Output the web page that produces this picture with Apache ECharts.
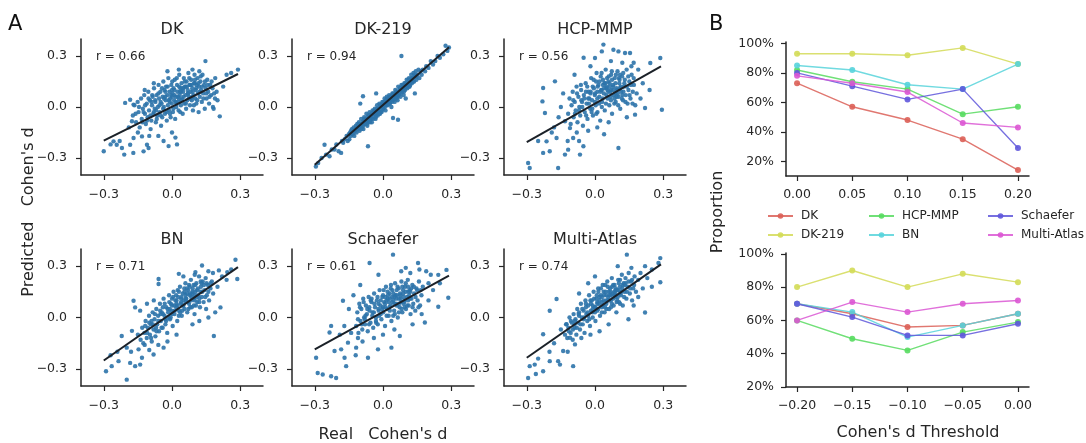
<!DOCTYPE html>
<html>
<head>
<meta charset="utf-8">
<title>Predicted vs real Cohen's d</title>
<script src="https://cdn.jsdelivr.net/npm/echarts@6.0.0/dist/echarts.min.js"></script>
<style>
  html, body { margin: 0; padding: 0; background: #fff; }
  #chart { width: 1086px; height: 443px; }
</style>
</head>
<body>
<div id="chart"></div>
<script>
// ---------- panel A : real vs predicted Cohen's d, one list of points per atlas ----------
var dkPts = [
  [-.172,-.05],[-.165,.01],[-.158,-.09],[-.151,.03],[-.147,-.03],[-.142,-.12],[-.136,.05],[-.133,-.07],[-.128,-.01],
  [-.122,.07],[-.119,-.04],[-.115,-.10],[-.111,.02],[-.107,-.06],[-.104,.09],[-.101,-.02],[-.097,.04],[-.094,-.13],[-.091,-.08],[-.088,.01],[-.085,.06],[-.082,-.04],
  [-.079,.11],[-.076,-.01],[-.073,.03],[-.071,-.09],[-.068,.07],[-.065,-.05],[-.062,.00],[-.059,.13],[-.057,.05],[-.054,-.03],[-.051,.09],[-.048,-.11],[-.046,.02],[-.043,-.06],[-.041,.06],
  [-.038,.15],[-.036,.00],[-.033,.10],[-.031,-.04],[-.028,.04],[-.026,.12],[-.023,-.08],[-.021,.07],[-.018,.01],[-.016,.17],[-.013,-.02],[-.011,.09],[-.008,.05],[-.006,-.06],[-.003,.13],[-.001,.02],
  [.002,.08],[.004,-.03],[.007,.11],[.009,.04],[.012,.16],[.014,-.07],[.017,.06],[.019,.00],[.022,.13],[.024,.09],[.027,.03],[.029,-.02],[.032,.19],[.034,.07],[.037,.11],[.039,.01],
  [.042,.14],[.044,.05],[.047,-.04],[.049,.09],[.052,.17],[.054,.02],[.057,.12],[.059,.07],[.062,-.01],[.064,.15],[.067,.04],[.069,.10],[.072,.20],[.074,.06],[.077,.13],[.079,.01],
  [.082,.09],[.084,.16],[.087,.04],[.089,.11],[.092,-.02],[.094,.07],[.097,.14],[.099,.19],[.102,.05],[.104,.10],[.107,.02],[.109,.13],[.112,.17],[.114,.08],[.117,-.03],[.119,.12],
  [.122,.06],[.125,.15],[.128,.10],[.131,.03],[.134,.19],[.137,.08],[.141,.13],[.144,-.01],[.148,.11],[.152,.05],[.155,.16],[.159,.09],
  [.163,.02],[.168,.13],[.172,.07],[.178,.11],[.183,-.01],[.189,.05],[.196,.09],
  [-.05,.03],[-.03,.06],[-.01,.03],[.01,.07],[.03,.05],[.05,.11],[.07,.08],[.09,.06],[-.07,-.02],[-.09,.03],[.0,.10],[.02,.02],[.04,.09],[.06,.12],[.08,.13],[.10,.14],
  [-.125,-.03],[-.118,.01],[-.11,-.08],[-.103,.05],[-.095,-.05],[-.087,.07],[-.08,-.03],[-.074,.04],[-.067,-.07],[-.06,.08],[-.055,.01],[-.049,-.05],[-.044,.11],[-.039,-.01],
  [-.035,.05],[-.029,.09],[-.024,-.03],[-.019,.12],[-.014,.04],[-.009,-.04],[-.004,.07],[.001,.15],[.006,-.01],[.011,.10],[.016,.03],[.021,.17],[.026,.06],[.031,.12],
  [.036,-.03],[.041,.04],[.046,.11],[.051,.06],[.056,.15],[.061,.02],[.066,.12],[.071,.08],[.076,.17],[.081,.05],[.086,.13],[.091,.09],[.096,.01],[.101,.16],
  [.106,.11],[.111,.04],[.116,.14],[.121,.09],[.126,.18],[.132,.12],[.138,.05],[.145,.15],[.151,.08],[.157,.13],[.165,.06],[.174,.15],[-.145,.00],[-.13,-.09],
  [-.16,-.04],[.185,.08],[.0,.06],[.035,.09],
  [.147,.27],[.29,.22],[.24,.19],[.21,-.055],[.18,.0],[.20,.04],[.225,.12],[-.206,.024],[-.184,.043],[-.169,.014],[-.176,-.084],[-.19,-.12],
  [-.257,-.202],[-.243,-.222],[-.22,-.241],[-.184,-.222],[-.169,-.182],[-.132,-.173],[-.11,-.222],[-.103,-.241],[-.125,-.261],[-.30,-.26],[-.21,-.28],[-.17,-.27],
  [-.27,-.22],[-.23,-.20],[-.037,-.20],[.015,-.18],[.022,-.22],[-.015,-.23],[-.06,-.17],[.0,-.15],[-.02,.21],[.03,.22],[.09,.22],[.12,.21],[-.10,-.17],[-.15,-.15],
  [-.08,.14],[-.12,.10],[.19,.17],[.26,.20]
];
var dk219Pts = [
  [-.295,-.35],[-.285,-.33],[-.27,-.30],[-.257,-.222],[-.25,-.28],[-.235,-.29],[-.225,-.25],[-.213,-.25],[-.205,-.22],[-.195,-.26],[-.184,-.27],[-.18,-.20],[-.175,-.21],[-.168,-.19],[-.16,-.17],[-.155,-.20],[-.15,-.16],
  [.29,.35],[.283,.33],[.275,.36],[.265,.31],[.25,.29],[.24,.30],[.23,.27],[.22,.25],[.21,.27],[.20,.23],[.19,.24],[.185,.21],[.175,.22],[.17,.19],[.165,.21],[.16,.17],
  [.081,.30],[-.088,.063],[-.066,-.231],[.066,-.075],[.044,-.065],[-.10,.02],[.10,.05],[-.03,.08],[.14,.08],
  [-.148,-.19],[-.145,-.15],[-.141,-.17],[-.137,-.13],[-.133,-.16],[-.129,-.12],[-.126,-.17],[-.122,-.14],[-.119,-.11],
  [-.116,-.15],[-.113,-.10],[-.109,-.13],[-.106,-.09],[-.103,-.14],[-.099,-.11],[-.096,-.07],[-.093,-.12],[-.089,-.09],[-.086,-.13],[-.083,-.06],[-.079,-.10],[-.076,-.08],[-.073,-.04],
  [-.069,-.11],[-.066,-.06],[-.063,-.09],[-.059,-.03],[-.056,-.07],[-.053,-.05],[-.049,-.09],[-.046,-.02],[-.043,-.06],[-.039,-.04],[-.036,-.01],[-.033,-.07],[-.029,-.03],[-.026,.01],
  [-.023,-.05],[-.019,-.02],[-.016,.02],[-.013,-.04],[-.009,.00],[-.006,-.03],[-.003,.03],[.001,-.01],[.004,.02],[.007,.05],[.011,-.02],[.014,.03],[.017,.06],[.021,.01],
  [.024,.04],[.027,.07],[.031,.02],[.034,.05],[.037,.00],[.041,.08],[.044,.04],[.047,.07],[.051,.03],[.054,.10],[.057,.06],[.061,.09],[.064,.04],[.067,.12],
  [.071,.08],[.074,.11],[.077,.06],[.081,.13],[.084,.09],[.087,.12],[.091,.07],[.094,.14],[.097,.10],[.101,.13],[.104,.16],[.107,.11],[.111,.14],[.114,.17],
  [.117,.12],[.121,.15],[.124,.19],[.127,.14],[.131,.17],[.134,.20],[.137,.15],[.141,.18],[.144,.21],[.147,.16],[.152,.19],[.156,.22],
  [-.081,-.07],[-.071,-.09],[-.061,-.05],[-.051,-.07],[-.041,-.03],[-.031,-.05],[-.021,-.01],[-.011,-.03],[-.001,.01],[.009,.03],[.019,.02],[.029,.05],[.039,.03],[.049,.06],
  [.059,.08],[.069,.07],[.079,.10],[.089,.10],[.099,.11],[.109,.13],[-.091,-.10],[-.101,-.12],[-.058,-.08],[-.035,-.04],[.015,.01],[.035,.06],[.062,.07],[.085,.11],[.118,.14],[.128,.16],
  [-.121,-.13],[-.111,-.12],[-.101,-.10],[-.095,-.13],[-.087,-.11],[-.078,-.07],[-.072,-.10],[-.064,-.05],[-.057,-.09],[-.05,-.04],[-.044,-.07],[-.038,-.02],[-.032,-.06],[-.025,-.01],
  [-.018,-.04],[-.012,.01],[-.005,-.02],[.002,.03],[.008,.00],[.013,.04],[.02,.05],[.026,.02],[.032,.06],[.038,.04],[.045,.08],[.052,.05],[.058,.09],[.065,.06],
  [.072,.10],[.078,.08],[.086,.13],[.092,.09],[.098,.14],[.105,.12],[.112,.16],[.119,.13],[.125,.17],[.132,.15],[.139,.19],[.146,.18],[-.13,-.15],[-.14,-.14],
  [.0,.00],[.03,.03],[.06,.05],[-.06,-.07],[-.03,-.03],[.09,.12],[.115,.12],[-.085,-.08]
];
var hcpPts = [
  [-.118,-.04],[-.112,.05],[-.107,-.10],[-.103,.01],[-.098,.09],[-.094,-.06],[-.089,.03],[-.085,-.02],[-.081,.12],[-.077,-.09],[-.073,.06],[-.069,.00],[-.065,-.05],[-.061,.10],
  [-.057,.03],[-.053,-.11],[-.049,.07],[-.045,-.03],[-.041,.14],[-.037,.02],[-.033,-.07],[-.029,.09],[-.025,.05],[-.021,-.01],[-.017,.17],[-.013,.04],[-.009,-.05],[-.005,.11],
  [-.001,.07],[.003,.01],[.007,.20],[.011,-.03],[.015,.13],[.019,.06],[.023,-.08],[.027,.10],[.031,.03],[.035,.16],[.039,.08],[.043,-.02],[.047,.22],[.051,.12],
  [.055,.05],[.059,.15],[.063,.01],[.067,.09],[.071,.19],[.075,-.04],[.079,.13],[.083,.07],[.087,.17],[.091,.03],[.095,.11],[.099,.21],[.103,.06],[.107,.14],
  [.111,-.01],[.115,.09],[.119,.18],[.123,.04],[.127,.12],[.131,.16],[.135,.07],[.139,.22],[.143,.02],[.147,.10],[.151,.15],[.156,.05],[.161,.19],[.166,.09],
  [.171,.13],[.177,.01],[.183,.08],
  [-.02,.08],[-.01,.12],[.0,.03],[.01,.09],[.02,.15],[.03,.00],[.04,.11],[.05,.07],[.06,.18],[.07,.04],[.08,.10],[.09,.14],[.10,.08],[.11,.19],[.12,.07],
  [-.03,.05],[-.04,.09],[-.06,.04],[.025,.18],[.045,.14],[.065,.12],[.085,.02],[.105,.17],[.125,.09],[-.015,-.03],[.005,.15],[.035,.13],[.055,.10],[.075,.16],[.095,.06],
  [-.095,.04],[-.088,-.04],[-.079,.08],[-.07,-.02],[-.062,.13],[-.056,.0],[-.047,.05],[-.039,-.05],[-.034,.12],[-.027,.02],[-.019,.09],[-.012,-.01],[-.006,.16],[.0,.08],
  [.006,-.04],[.012,.12],[.018,.02],[.024,.09],[.029,.20],[.034,.05],[.041,.14],[.048,.02],[.053,.17],[.058,.09],[.064,.14],[.069,.06],[.074,.21],[.08,.12],
  [.086,.05],[.092,.19],[.097,.10],[.102,.01],[.108,.16],[.113,.12],[.118,.05],[.124,.20],[.129,.14],[.134,.03],[.14,.12],[.146,.18],[.152,.07],[.158,.13],
  [.165,.02],[.17,.17],[.05,.11],[.07,.10],[.09,.08],[.03,.10],[.01,.05],[.11,.11],
  [.037,.367],[.081,.337],[.103,.327],[.132,.318],[.154,.318],[.03,.327],[-.05,.29],[0,.288],[.287,.288],[.243,.259],[.294,-.016],[.22,-.006],[.176,-.045],
  [-.176,.151],[-.228,.112],[-.231,.033],[-.22,-.035],[-.294,-.329],[-.287,-.359],[-.228,-.27],[-.199,-.26],[-.162,-.359],[-.132,-.28],[-.118,-.251],[-.066,-.28],
  [-.051,-.231],[.103,-.241],[-.213,-.202],[-.169,-.182],[-.096,-.182],[-.11,-.124],[-.132,-.084],
  [-.15,.0],[-.16,-.06],[-.14,.08],[-.18,-.12],[-.08,-.15],[-.03,-.14],[.01,-.12],[.06,-.09],[.14,-.06],[.20,.05],[.21,.14],[.19,.22],[.17,.26],[.07,.27],
  [-.02,.24],[-.09,.19],[.24,.10],[.12,.26],[-.19,-.15],[-.25,-.20],[-.07,-.20],[.04,-.16],[-.12,-.20],[.16,.24]
];
var bnPts = [
  [-.138,-.13],[-.131,-.06],[-.126,-.15],[-.121,-.09],[-.116,-.02],[-.111,-.12],[-.106,-.06],[-.101,.01],[-.097,-.10],[-.093,-.04],[-.089,-.14],[-.085,.03],[-.081,-.07],[-.077,-.01],
  [-.073,-.11],[-.069,.05],[-.065,-.04],[-.061,.01],[-.057,-.08],[-.053,.08],[-.049,-.02],[-.045,.03],[-.041,-.06],[-.037,.11],[-.033,.01],[-.029,-.04],[-.025,.06],[-.021,-.09],
  [-.017,.03],[-.013,.13],[-.009,-.01],[-.005,.08],[-.001,.04],[.003,-.05],[.007,.15],[.011,.02],[.015,.10],[.019,.06],[.023,-.02],[.027,.12],[.031,.04],[.035,.18],
  [.039,.08],[.043,.01],[.047,.14],[.051,.10],[.055,.05],[.059,.20],[.063,.11],[.067,.03],[.071,.16],[.075,.08],[.079,.13],[.083,.22],[.087,.06],[.091,.17],
  [.095,.11],[.099,.02],[.103,.15],[.107,.20],[.111,.09],[.115,.13],[.119,.24],[.123,.06],[.127,.18],[.131,.12],[.135,.21],[.139,.09],[.143,.16],[.148,.23],
  [.153,.13],[.158,.19],[.163,.10],[.169,.17],[.175,.21],[.181,.14],
  [-.03,-.01],[-.01,.05],[.01,.07],[.02,.10],[.03,.01],[.04,.11],[.05,.07],[.06,.13],[.07,.09],[.08,.06],[.09,.14],[.10,.10],[.11,.16],[.12,.11],[-.05,.02],
  [-.07,-.06],[-.09,-.02],[.0,.11],[.025,.16],[.045,.04],[.065,.17],[.085,.12],[.105,.07],[.125,.15],[-.015,.0],[-.04,.06],[.055,.15],[.075,.19],[.095,.19],[.13,.20],
  [-.118,-.05],[-.109,-.09],[-.10,-.03],[-.092,-.12],[-.084,-.04],[-.075,.02],[-.068,-.08],[-.06,-.02],[-.052,.04],[-.046,-.06],[-.039,.02],[-.032,.08],[-.026,-.02],[-.019,.05],
  [-.012,.09],[-.006,.0],[.0,.07],[.005,.12],[.012,.04],[.018,.13],[.024,.07],[.03,.15],[.036,.03],[.042,.12],[.048,.07],[.054,.17],[.06,.09],[.066,.14],
  [.072,.05],[.078,.18],[.084,.10],[.09,.15],[.096,.07],[.102,.19],[.108,.12],[.114,.17],[.12,.09],[.126,.21],[.133,.15],[.14,.19],[.146,.12],[.152,.20],
  [.16,.15],[.17,.20],[.02,.08],[.04,.09],[.06,.11],[.08,.14],[.10,.13],[.0,.02],
  [.279,.337],[.287,.225],[.243,.265],[.206,.275],[.184,-.108],[.213,.059],[.103,.265],[.132,.304],[.03,.255],[-.059,.225],[-.059,.196],[-.169,.098],[-.162,.059],
  [-.176,-.078],[-.221,-.108],[-.29,-.314],[-.265,-.284],[-.235,-.255],[-.199,-.363],[-.184,-.265],[-.162,-.284],[-.14,-.275],[-.132,-.235],[-.199,-.176],[-.147,-.186],
  [-.081,-.216],[-.037,-.176],
  [.22,.24],[.20,.18],[.18,.26],[.16,.27],[.24,.22],[.15,.05],[.12,-.02],[.09,-.04],[.02,-.10],[-.02,-.14],[-.06,-.16],[-.10,-.19],[-.12,-.16],[-.15,-.10],
  [-.14,.04],[-.11,.08],[-.08,.10],[.05,.24],[.26,.28],[.19,.03],[-.18,-.20],[-.24,-.20],[-.27,-.22],[.16,.0],[.10,.25]
];
var schaeferPts = [
  [-.118,-.05],[-.113,.03],[-.108,-.09],[-.104,.08],[-.099,-.02],[-.095,.05],[-.091,-.07],[-.087,.11],[-.083,.00],[-.079,-.04],[-.075,.07],[-.071,.02],[-.067,-.08],[-.063,.12],
  [-.059,.04],[-.055,-.03],[-.051,.09],[-.047,.01],[-.043,-.06],[-.039,.14],[-.035,.06],[-.031,.00],[-.027,.10],[-.023,-.04],[-.019,.04],[-.015,.16],[-.011,.07],[-.007,-.01],
  [-.003,.12],[.001,.03],[.005,.09],[.009,-.05],[.013,.18],[.017,.05],[.021,.11],[.025,.01],[.029,.14],[.033,.07],[.037,-.02],[.041,.16],[.045,.10],[.049,.04],
  [.053,.20],[.057,.08],[.061,.13],[.065,.00],[.069,.17],[.073,.06],[.077,.11],[.081,.21],[.085,.03],[.089,.14],[.093,.09],[.097,.18],[.101,.05],[.105,.12],
  [.109,.22],[.113,.07],[.117,.16],[.121,.02],[.125,.11],[.129,.19],[.133,.08],[.137,.14],[.142,.04],[.147,.17],[.152,.10],[.158,.21],[.163,.07],[.169,.13],[.175,.18],
  [-.02,.08],[-.01,.02],[.0,.13],[.01,.06],[.02,.15],[.03,.04],[.04,.12],[.05,.08],[.06,.16],[.07,.03],[.08,.09],[.09,.12],[.10,.15],[.11,.10],[-.04,.03],
  [-.06,.06],[-.08,-.01],[.015,.10],[.035,.19],[.055,.13],[.075,.14],[.095,.06],[.115,.13],[-.03,-.03],[-.05,.11],[.045,.01],[.085,.18],[.12,.15],[.0,.06],[.025,.09],
  [-.11,-.01],[-.101,.06],[-.093,-.04],[-.085,.09],[-.077,.01],[-.069,.05],[-.061,-.04],[-.054,.10],[-.046,.03],[-.038,.08],[-.031,-.02],[-.024,.12],[-.017,.01],[-.01,.10],
  [-.004,.05],[.003,.16],[.009,.08],[.016,.01],[.022,.13],[.028,.06],[.034,.17],[.04,.09],[.046,.14],[.052,.02],[.058,.11],[.064,.18],[.07,.08],[.076,.13],
  [.082,.05],[.088,.16],[.094,.10],[.10,.20],[.106,.07],[.112,.15],[.118,.11],[.124,.17],[.13,.06],[.136,.18],[.143,.12],[.15,.16],[.156,.06],[.165,.16],
  [.03,.11],[.05,.12],[.07,.11],[.01,.12],[.09,.08],[-.02,.05],[.11,.18],[.06,.07],
  [.044,.367],[-.059,.318],[.154,.318],[.279,.278],[.243,.249],[.287,.115],[.243,.063],[.184,-.029],[-.176,.098],[-.228,-.049],[-.235,-.088],[-.294,-.235],[-.287,-.324],
  [-.265,-.333],[-.228,-.343],[-.206,-.353],[-.169,-.235],[-.162,-.284],[-.213,-.196],[-.184,-.186],[-.154,-.147],[-.118,-.176],[-.066,-.235],[-.022,-.186],[.074,-.108],[.037,-.176],
  [.19,.27],[.21,.25],[.20,.20],[.12,.26],[.08,.27],[.10,.29],[-.02,.25],[-.10,.19],[-.13,.13],[-.15,.05],[-.17,-.05],[-.14,-.09],[-.11,-.12],[-.09,-.14],
  [-.04,-.12],[.0,-.10],[.05,-.07],[.13,-.04],[.20,.10],[.22,.16],[.17,.02],[-.19,-.10],[-.12,-.22],[.16,.28],[.25,.20]
];
var multiPts = [
  [-.132,-.10],[-.127,-.04],[-.122,-.12],[-.117,-.06],[-.112,.00],[-.107,-.09],[-.102,-.03],[-.098,-.13],[-.094,.02],[-.09,-.06],[-.086,-.01],[-.082,-.10],[-.078,.05],[-.074,-.03],
  [-.07,.01],[-.066,-.07],[-.062,.08],[-.058,.00],[-.054,-.04],[-.05,.04],[-.046,-.09],[-.042,.10],[-.038,.02],[-.034,-.02],[-.03,.07],[-.026,.13],[-.022,-.05],[-.018,.04],
  [-.014,.10],[-.01,.00],[-.006,.15],[-.002,.06],[.002,-.02],[.006,.11],[.01,.04],[.014,.17],[.018,.08],[.022,.01],[.026,.13],[.03,.06],[.034,.19],[.038,.10],
  [.042,.03],[.046,.15],[.05,.08],[.054,.21],[.058,.12],[.062,.05],[.066,.17],[.07,.10],[.074,.23],[.078,.14],[.082,.07],[.086,.19],[.09,.12],[.094,.03],
  [.098,.16],[.102,.22],[.106,.09],[.11,.18],[.114,.13],[.118,.25],[.122,.07],[.126,.20],[.13,.15],[.134,.23],[.138,.11],[.143,.18],[.148,.26],[.153,.14],
  [.158,.21],[.163,.10],[.168,.17],[.174,.24],[.18,.15],
  [-.03,.01],[-.01,.07],[.0,.03],[.01,.09],[.02,.12],[.03,.03],[.04,.13],[.05,.05],[.06,.15],[.07,.06],[.08,.11],[.09,.16],[.10,.12],[.11,.08],[.12,.17],
  [-.05,-.01],[-.07,.03],[-.09,-.04],[.015,.15],[.035,.07],[.055,.10],[.075,.18],[.095,.09],[.13,.19],[-.02,.10],[-.04,.06],[.045,.19],[.065,.13],[.085,.15],[.105,.20],
  [-.115,-.08],[-.106,-.02],[-.097,-.07],[-.088,-.02],[-.08,-.06],[-.072,.02],[-.064,-.04],[-.056,.05],[-.048,.0],[-.04,.08],[-.033,.03],[-.025,-.01],[-.018,.08],[-.011,.03],
  [-.004,.11],[.002,.06],[.008,.13],[.014,.05],[.02,.10],[.026,.17],[.032,.09],[.038,.15],[.044,.06],[.05,.13],[.056,.18],[.062,.10],[.068,.15],[.074,.08],
  [.08,.19],[.086,.13],[.092,.17],[.098,.10],[.104,.16],[.11,.22],[.116,.15],[.122,.19],[.128,.12],[.134,.20],[.14,.15],[.147,.21],[.155,.17],[.163,.22],
  [.172,.19],[.03,.12],[.05,.10],[.07,.13],[.09,.14],[.01,.08],[-.01,.05],[.11,.14],
  [.14,.367],[.287,.347],[.279,.318],[.287,.206],[.22,.029],[.147,-.01],[-.169,.108],[-.199,.039],[-.125,-.039],[-.228,-.098],[-.294,-.353],[-.287,-.284],[-.265,-.275],
  [-.228,-.314],[-.199,-.255],[-.162,-.255],[-.154,-.275],[-.096,-.284],[-.14,-.196],[-.088,-.157],[-.11,-.118],
  [.25,.28],[.22,.30],[.20,.26],[.19,.22],[.23,.23],[.21,.17],[.17,.07],[.19,.12],[.25,.18],[-.06,-.12],[-.02,-.10],[.02,-.08],[.06,-.04],[-.15,-.07],
  [-.18,-.15],[-.12,-.20],[-.03,.20],[-.07,.14],[.0,.24],[.10,.30],[.16,.29],[-.20,-.20],[-.25,-.24],[-.26,-.33]
];

// fitted regression lines (end points)
var dkFit       = [[-0.30, -0.198], [0.29, 0.194]];
var dk219Fit    = [[-0.30, -0.339], [0.29, 0.351]];
var hcpFit      = [[-0.30, -0.206], [0.29, 0.239]];
var bnFit       = [[-0.30, -0.251], [0.29, 0.294]];
var schaeferFit = [[-0.30, -0.186], [0.29, 0.245]];
var multiFit    = [[-0.30, -0.235], [0.29, 0.310]];

var atlasNames = ['DK', 'DK-219', 'HCP-MMP', 'BN', 'Schaefer', 'Multi-Atlas'];
var rValues    = ['0.66', '0.94', '0.56', '0.71', '0.61', '0.74'];
var dTicks     = [-0.3, 0, 0.3];

// ---------- panel B : proportions by Cohen's d threshold ----------
var thrPos = [0.00, 0.05, 0.10, 0.15, 0.20];
var posDK       = [73, 57, 48, 35, 14];
var posDK219    = [93, 93, 92, 97, 86];
var posHCP      = [82, 74, 69, 52, 57];
var posBN       = [85, 82, 72, 69, 86];
var posSchaefer = [80, 71, 62, 69, 29];
var posMulti    = [78, 73, 67, 46, 43];

var thrNeg = [-0.20, -0.15, -0.10, -0.05, 0.00];
var negDK       = [70, 64, 56, 57, 64];
var negDK219    = [80, 90, 80, 88, 83];
var negHCP      = [60, 49, 42, 53, 59];
var negBN       = [70, 65, 50, 57, 64];
var negSchaefer = [70, 62, 51, 51, 58];
var negMulti    = [60, 71, 65, 70, 72];
var pctTicks = [20, 40, 60, 80, 100];

var atlasColors = ['#db5f57', '#d3db57', '#57db5f', '#57d3db', '#5f57db', '#db57d3'];

var FONT = 'DejaVu Sans';
var INK = '#262626';

function dFmt(v) {
  return (v < 0 ? '\u2212' : '') + Math.abs(v).toFixed(1);
}
function thrFmt(v) {
  return (v < -1e-9 ? '\u2212' : '') + Math.abs(v).toFixed(2);
}

function axisBase(gridIndex, min, max, ticks, fmt, margin) {
  return {
    type: 'value', gridIndex: gridIndex, min: min, max: max,
    axisLine: { show: true, onZero: false, lineStyle: { color: INK, width: 1.5 } },
    axisTick: { show: true, length: 5, customValues: ticks, lineStyle: { color: INK, width: 1.2 } },
    axisLabel: { customValues: ticks, formatter: fmt, margin: margin, color: INK, fontSize: 12.5, fontFamily: FONT },
    splitLine: { show: false }
  };
}

var chart = echarts.init(document.getElementById('chart'));

var grids = [], xAxes = [], yAxes = [], series = [], graphics = [];
var colLeft = [81, 292, 504];
var rowTop = [39, 249];
var rowH = [136, 137];
var panelPts = [dkPts, dk219Pts, hcpPts, bnPts, schaeferPts, multiPts];
var panelFit = [dkFit, dk219Fit, hcpFit, bnFit, schaeferFit, multiFit];

for (var i = 0; i < 6; i++) {
  var c = i % 3, r = Math.floor(i / 3);
  grids.push({ left: colLeft[c], top: rowTop[r], width: 182, height: rowH[r] });
  xAxes.push(axisBase(i, -0.4, 0.4, dTicks, dFmt, 13));
  yAxes.push(axisBase(i, -0.4, 0.4, dTicks, dFmt, 14));
  series.push({
    type: 'scatter', xAxisIndex: i, yAxisIndex: i, data: panelPts[i],
    symbolSize: 4.4, itemStyle: { color: '#2c73aa', opacity: 0.9 }, silent: true
  });
  series.push({
    type: 'line', xAxisIndex: i, yAxisIndex: i, data: panelFit[i],
    symbol: 'none', lineStyle: { color: '#1b2128', width: 2 }, z: 5, silent: true
  });
  graphics.push({
    type: 'text', x: colLeft[c] + 91, y: rowTop[r] - 9,
    style: { text: atlasNames[i], font: '16px ' + FONT, fill: INK, align: 'center', verticalAlign: 'middle' }
  });
  graphics.push({
    type: 'text', x: colLeft[c] + 15, y: rowTop[r] + 18,
    style: { text: 'r = ' + rValues[i], font: '12px ' + FONT, fill: INK, align: 'left', verticalAlign: 'middle' }
  });
}

// panel B grids
grids.push({ left: 786, top: 42, width: 243, height: 134 });
grids.push({ left: 786, top: 253, width: 243, height: 134 });
var pctFmt = function (v) { return v + '%'; };
xAxes.push(axisBase(6, -0.01, 0.21, thrPos, thrFmt, 12));
yAxes.push(axisBase(6, 10, 101, pctTicks, pctFmt, 12));
xAxes.push(axisBase(7, -0.21, 0.01, thrNeg, thrFmt, 12));
yAxes.push(axisBase(7, 20, 100.5, pctTicks, pctFmt, 12));

var posSets = [posDK, posDK219, posHCP, posBN, posSchaefer, posMulti];
var negSets = [negDK, negDK219, negHCP, negBN, negSchaefer, negMulti];

function lineSeries(name, axisIdx, xs, ys, color) {
  return {
    name: name, type: 'line', xAxisIndex: axisIdx, yAxisIndex: axisIdx,
    data: xs.map(function (x, k) { return [x, ys[k]]; }),
    symbol: 'circle', symbolSize: 6,
    lineStyle: { color: color, width: 1.4, opacity: 0.85 },
    itemStyle: { color: color, opacity: 0.9 }, silent: true
  };
}
for (var j = 0; j < 6; j++) {
  series.push(lineSeries(atlasNames[j], 6, thrPos, posSets[j], atlasColors[j]));
  series.push(lineSeries(atlasNames[j], 7, thrNeg, negSets[j], atlasColors[j]));
}

// legend laid out as 3 columns x 2 rows
var legendSpots = [[767, 217], [767, 236], [868, 217], [868, 236], [987, 217], [987, 236]];
var legends = atlasNames.map(function (n, k) {
  return {
    data: [n], left: legendSpots[k][0], top: legendSpots[k][1] - 7, padding: 0,
    itemWidth: 25, itemHeight: 7, itemGap: 0, selectedMode: false,
    textStyle: { color: INK, fontSize: 12, fontFamily: FONT, padding: [0, 0, 0, 3] }
  };
});

// figure letters and axis titles
graphics.push({ type: 'text', x: 8, y: 25, style: { text: 'A', font: '21px ' + FONT, fill: '#111', verticalAlign: 'middle' } });
graphics.push({ type: 'text', x: 709, y: 25, style: { text: 'B', font: '21px ' + FONT, fill: '#111', verticalAlign: 'middle' } });
graphics.push({ type: 'text', x: 29, y: 212, rotation: Math.PI / 2,
  style: { text: 'Predicted   Cohen\'s d', font: '16px ' + FONT, fill: INK, align: 'center', verticalAlign: 'middle' } });
graphics.push({ type: 'text', x: 383, y: 435,
  style: { text: 'Real   Cohen\'s d', font: '16px ' + FONT, fill: INK, align: 'center', verticalAlign: 'middle' } });
graphics.push({ type: 'text', x: 718, y: 212, rotation: Math.PI / 2,
  style: { text: 'Proportion', font: '16px ' + FONT, fill: INK, align: 'center', verticalAlign: 'middle' } });
graphics.push({ type: 'text', x: 918, y: 433,
  style: { text: 'Cohen\'s d Threshold', font: '16px ' + FONT, fill: INK, align: 'center', verticalAlign: 'middle' } });

chart.setOption({
  animation: false,
  backgroundColor: '#fff',
  textStyle: { fontFamily: FONT },
  grid: grids,
  xAxis: xAxes,
  yAxis: yAxes,
  legend: legends,
  series: series,
  graphic: graphics
});
</script>
</body>
</html>
